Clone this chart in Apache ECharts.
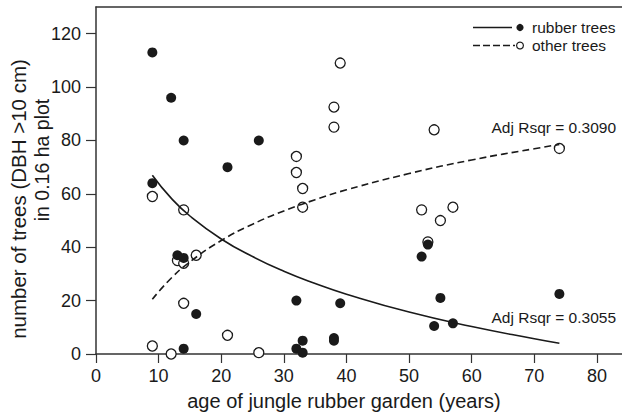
<!DOCTYPE html>
<html>
<head>
<meta charset="utf-8">
<script src="https://cdn.jsdelivr.net/npm/echarts@6/dist/echarts.min.js"></script>
<style>
  html, body { margin: 0; padding: 0; background: #fff; }
  #chart { width: 622px; height: 416px; }
</style>
</head>
<body>
<div id="chart"></div>
<script>
// tick labels
const xTicks = [0, 10, 20, 30, 40, 50, 60, 70, 80];
const yTicks = [0, 20, 40, 60, 80, 100, 120];

// rubber trees (filled dots)
const rubberAge =   [9, 12, 14, 26, 21, 9, 13, 14, 16, 14, 32, 39, 33, 32, 33, 38, 38, 52, 53, 55, 54, 57, 74];
const rubberCount = [113, 96, 80, 80, 70, 64, 37, 36, 15, 2, 20, 19, 5, 2, 0.5, 6, 5, 36.5, 41, 21, 10.5, 11.5, 22.5];

// other trees (open circles)
const otherAge =   [39, 38, 38, 32, 32, 33, 33, 9, 14, 13, 14, 16, 14, 21, 9, 12, 26, 54, 74, 52, 57, 55, 53];
const otherCount = [109, 92.5, 85, 74, 68, 62, 55, 59, 54, 35, 34, 37, 19, 7, 3, 0, 0.5, 84, 77, 54, 55, 50, 42];

// fitted curves
const fitAge =    [9, 12, 15, 20, 25, 30, 35, 40, 50, 60, 70, 74];
const rubberFit = [67, 58.4, 51.7, 43.1, 36.5, 31, 26.4, 22.4, 15.7, 10.3, 5.7, 4];
const otherFit =  [20.5, 28.4, 34.5, 42.5, 48.6, 53.6, 57.8, 61.5, 67.6, 72.7, 76.9, 78.5];

const font = "'Liberation Sans', Arial, sans-serif";
const ink = '#1a1a1a';
const axisColor = '#333';

const zip = (a, b) => a.map((v, i) => [v, b[i]]);

let chart = echarts.init(document.getElementById('chart'), null, { renderer: 'svg' });

chart.setOption({
  animation: false,
  backgroundColor: '#fff',
  grid: { left: 96, right: 0, top: 7, bottom: 62, outerBoundsMode: 'none', containLabel: false },
  xAxis: [
    {
      type: 'value',
      min: 0,
      max: 84,
      interval: 10,
      axisLine: { lineStyle: { color: axisColor, width: 1.5 } },
      axisTick: { customValues: xTicks, length: 9, lineStyle: { color: axisColor, width: 1.2 } },
      axisLabel: { customValues: xTicks, margin: 13, fontSize: 18, color: ink, fontFamily: font },
      splitLine: { show: false },
      name: 'age of jungle rubber garden (years)',
      nameLocation: 'middle',
      nameGap: 37,
      nameMoveOverlap: false,
      nameTextStyle: { fontSize: 20, color: ink, fontFamily: font, padding: [0, 30, 0, 0] }
    },
    {
      // top frame line
      type: 'value',
      position: 'top',
      min: 0,
      max: 84,
      axisLine: { show: true, lineStyle: { color: axisColor, width: 1.5 } },
      axisTick: { show: false },
      axisLabel: { show: false },
      splitLine: { show: false }
    }
  ],
  yAxis: {
    type: 'value',
    min: 0,
    max: 130,
    interval: 20,
    axisLine: { show: true, lineStyle: { color: axisColor, width: 1.5 } },
    axisTick: { show: true, customValues: yTicks, length: 10, lineStyle: { color: axisColor, width: 1.2 } },
    axisLabel: { customValues: yTicks, margin: 15, fontSize: 18, color: ink, fontFamily: font },
    splitLine: { show: false },
    name: '{a|number of trees (DBH >10 cm)}\n{b|in 0.16 ha plot}',
    nameLocation: 'middle',
    nameGap: 42,
    nameMoveOverlap: false,
    nameTextStyle: {
      color: ink,
      fontFamily: font,
      rich: {
        a: { fontSize: 20.5, lineHeight: 24, fontFamily: font, color: ink, padding: [0, 37, 0, 0] },
        b: { fontSize: 19.5, lineHeight: 24, fontFamily: font, color: ink, padding: [0, 0, 0, 41] }
      }
    }
  },
  series: [
    {
      type: 'line',
      data: zip(fitAge, rubberFit),
      smooth: true,
      showSymbol: false,
      lineStyle: { color: ink, width: 1.6 }
    },
    {
      type: 'line',
      data: zip(fitAge, otherFit),
      smooth: true,
      showSymbol: false,
      lineStyle: { color: ink, width: 1.6, type: [7, 4] }
    },
    {
      type: 'scatter',
      data: zip(otherAge, otherCount),
      symbolSize: 10,
      clip: false,
      itemStyle: { color: '#fff', borderColor: ink, borderWidth: 1.3, opacity: 1 }
    },
    {
      type: 'scatter',
      data: zip(rubberAge, rubberCount),
      symbolSize: 10,
      clip: false,
      itemStyle: { color: ink, opacity: 1 }
    }
  ],
  graphic: [
    // legend
    { type: 'line', shape: { x1: 473, y1: 27.5, x2: 512, y2: 27.5 }, style: { stroke: ink, lineWidth: 1.5 } },
    { type: 'circle', shape: { cx: 520, cy: 27.5, r: 3.6 }, style: { fill: ink } },
    { type: 'text', left: 532, top: 19, style: { text: 'rubber trees', fontSize: 15.5, fontFamily: font, fill: ink } },
    { type: 'line', shape: { x1: 473, y1: 45.5, x2: 515, y2: 45.5 }, style: { stroke: ink, lineWidth: 1.5, lineDash: [7, 3] } },
    { type: 'circle', shape: { cx: 520, cy: 45.5, r: 3.4 }, style: { fill: '#fff', stroke: ink, lineWidth: 1.2 } },
    { type: 'text', left: 532, top: 37, style: { text: 'other trees', fontSize: 15.5, fontFamily: font, fill: ink } },
    // fit annotations
    { type: 'text', right: 6, top: 119, style: { text: 'Adj Rsqr = 0.3090', fontSize: 15.5, fontFamily: font, fill: ink } },
    { type: 'text', right: 6, top: 309, style: { text: 'Adj Rsqr = 0.3055', fontSize: 15.5, fontFamily: font, fill: ink } }
  ]
});

window.addEventListener('resize', () => {
  chart.resize();
});
</script>
</body>
</html>
